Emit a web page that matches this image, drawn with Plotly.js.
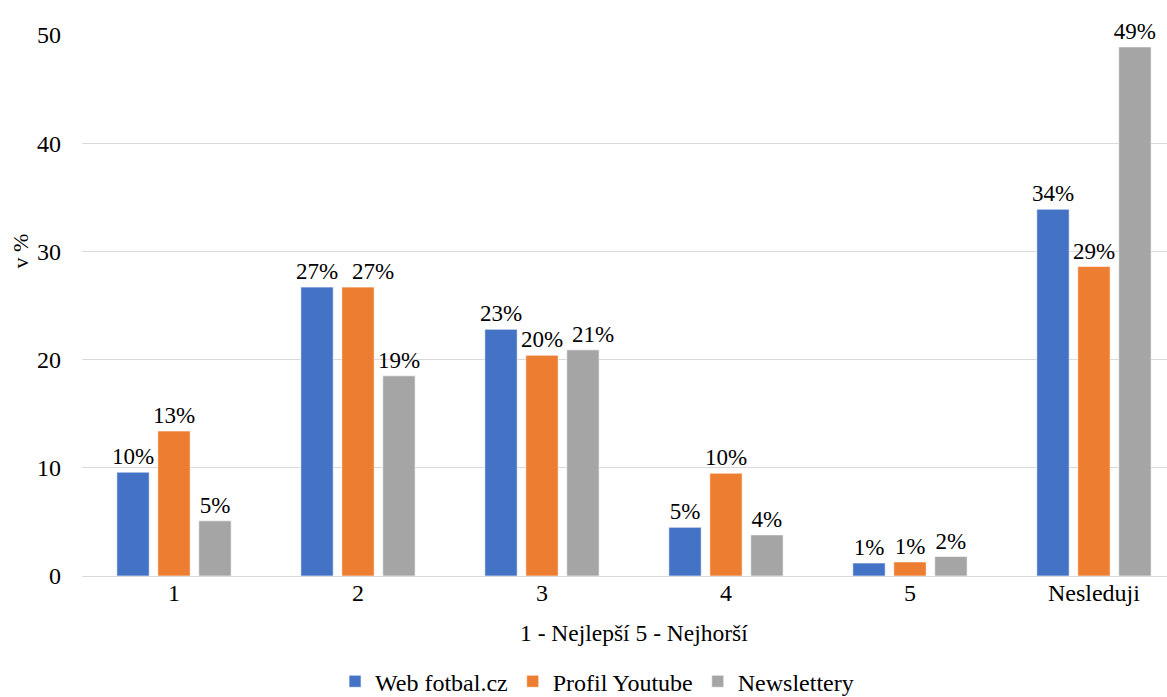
<!DOCTYPE html>
<html>
<head>
<meta charset="utf-8">
<script src="https://cdn.plot.ly/plotly-3.0.1.min.js"></script>
<style>html,body{margin:0;padding:0;background:#fff;}#chart{width:1167px;height:697px;}</style>
</head>
<body>
<div id="chart"></div>
<script>
const categories = ['1', '2', '3', '4', '5', 'Nesleduji'];
const seriesNames = ['Web fotbal.cz', 'Profil Youtube', 'Newslettery'];
const webValues = [9.6, 26.7, 22.8, 4.5, 1.2, 33.9];
const youtubeValues = [13.4, 26.7, 20.4, 9.5, 1.3, 28.6];
const newsletterValues = [5.1, 18.5, 20.9, 3.8, 1.8, 48.9];
const webLabels = ['10%', '27%', '23%', '5%', '1%', '34%'];
const youtubeLabels = ['13%', '27%', '20%', '10%', '1%', '29%'];
const newsletterLabels = ['5%', '19%', '21%', '4%', '2%', '49%'];
const yTicks = [0, 10, 20, 30, 40, 50];
const xTitle = '1 - Nejlepší 5 - Nejhorší';
const yTitle = 'v %';

const colors = ['#4472C4', '#ED7D31', '#A5A5A5'];
const font = 'Liberation Serif, Times New Roman, serif';
const labelSize = 23;

// Bar geometry (style): category spacing in px and the slot width of one bar
const plotLeft = 82, plotRight = 1167;
const xRange = [-0.5, 5.397];
const bargap = 0.332, bargroupgap = 0.21;
const catPx = (plotRight - plotLeft) / (xRange[1] - xRange[0]);
const slotPx = catPx * (1 - bargap) / 3;

// labels that the original nudges sideways: [series index, category index, extra px]
const nudged = [[1, 1, 15], [2, 2, 10]];
const allValues = [webValues, youtubeValues, newsletterValues];
const allLabels = [webLabels, youtubeLabels, newsletterLabels];

function traceText(si) {
  return allLabels[si].map((t, i) => nudged.some(n => n[0] === si && n[1] === i) ? '' : t);
}

function mk(si) {
  return {
    type: 'bar', name: seriesNames[si], x: categories, y: allValues[si], text: traceText(si),
    textposition: 'outside', cliponaxis: false, constraintext: 'none',
    textfont: {family: font, size: labelSize, color: '#000'},
    marker: {color: colors[si], line: {color: 'rgba(255,255,255,0.6)', width: 1}},
    hoverinfo: 'x+y'
  };
}

const data = [mk(0), mk(1), mk(2)];

// on a category axis an annotation's x is the category's index
const labelAnnotations = nudged.map(([si, ci, extra]) => ({
  text: allLabels[si][ci], xref: 'x', yref: 'y', x: ci, y: allValues[si][ci],
  xanchor: 'center', yanchor: 'bottom', xshift: (si - 1) * slotPx + extra, yshift: 1,
  showarrow: false, font: {family: font, size: labelSize, color: '#000'}
}));

const layout = {
  width: 1167, height: 697,
  margin: {l: plotLeft, r: 1167 - plotRight, t: 35, b: 120.5, pad: 0, autoexpand: false},
  paper_bgcolor: '#fff', plot_bgcolor: '#fff',
  barmode: 'group', bargap: bargap, bargroupgap: bargroupgap,
  font: {family: font, size: 20, color: '#000'},
  showlegend: true,
  legend: {orientation: 'h', x: 0.4747, xanchor: 'center', yref: 'container', y: 0.022, yanchor: 'middle',
           font: {family: font, size: 24, color: '#000'}, itemwidth: 30, tracegroupgap: 0},
  xaxis: {
    type: 'category', range: xRange, showgrid: false, zeroline: false,
    showline: false, ticks: '', tickfont: {family: font, size: 24, color: '#000'},
    automargin: false
  },
  yaxis: {
    range: [0, 50], tickvals: yTicks, ticktext: yTicks.map(String),
    showgrid: true, gridcolor: '#D9D9D9', gridwidth: 1.3,
    zeroline: true, zerolinecolor: '#D9D9D9', zerolinewidth: 1.3,
    showline: false, ticks: '', ticklabelstandoff: 20,
    tickfont: {family: font, size: 24, color: '#000'},
    automargin: false
  },
  annotations: [
    {
      text: yTitle, xref: 'paper', yref: 'paper', x: -0.057, y: 0.6, xanchor: 'center', yanchor: 'middle',
      textangle: -90, showarrow: false, font: {family: font, size: 22, color: '#000'}
    },
    {
      text: xTitle, xref: 'paper', yref: 'paper', x: 0.5088, y: -0.106, xanchor: 'center', yanchor: 'middle',
      showarrow: false, font: {family: font, size: 23.5, color: '#000'}
    }
  ].concat(labelAnnotations)
};

Plotly.newPlot('chart', data, layout, {displayModeBar: false, responsive: false});
</script>
</body>
</html>
